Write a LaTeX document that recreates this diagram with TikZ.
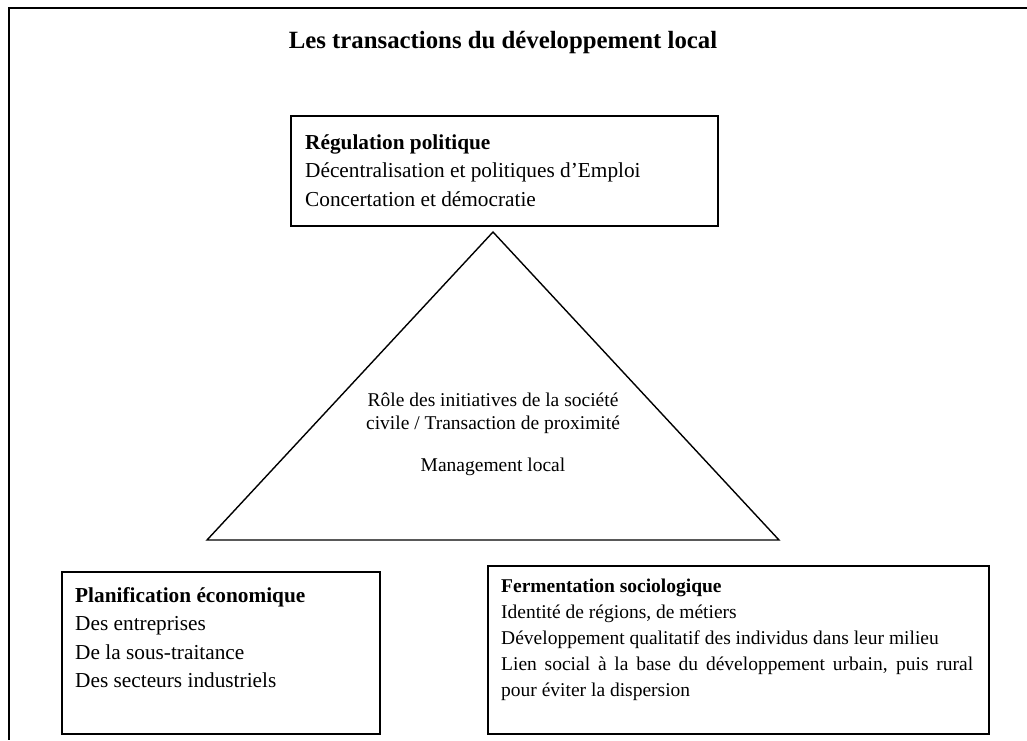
\documentclass[tikz,border=0pt]{standalone}
\usepackage{fontspec}
\setmainfont{Liberation Serif}
\usetikzlibrary{positioning,calc}
\tikzset{
    titletext/.style = {font=\fontsize{24.8}{30}\selectfont\bfseries},
    boxtext/.style = {font=\fontsize{21.3}{28.5}\selectfont, align=left, inner sep=0pt, anchor=north west},
    smalltext/.style = {font=\fontsize{19.5}{26}\selectfont},
    tritext/.style = {font=\fontsize{19.5}{23}\selectfont, align=center, inner sep=0pt},
    boxframe/.style = {draw, line width=1.8pt, inner sep=0pt, anchor=north west}
}

\begin{document}
\begin{tikzpicture}[x=1pt,y=-1pt]
                \useasboundingbox (0,0) rectangle (1027,740);

                % FRAME
                \coordinate (frametr) at (1027,8);
                \coordinate (frametl) at (9,8);
                \coordinate (framebl) at (9,740);
                \draw[line width=2pt] (frametr) -- (frametl) -- (framebl);

                \node[titletext] (title) at (503,43) {Les transactions du développement local};

                % REGULATION
                \node[boxframe, minimum width=427pt, minimum height=110pt] (regbox) at (290,115) {};
                \node[boxtext] (regtext) at ([xshift=15pt,yshift=-19pt]regbox.north west)
                    {\textbf{Régulation politique}\\Décentralisation et politiques d’Emploi\\Concertation et démocratie};

                % TRIANGLE
                \coordinate (apex) at (493,232);
                \coordinate (baseleft) at (207,540);
                \coordinate (baseright) at (779,540);
                \draw[line width=1.4pt] (apex) -- (baseleft) -- (baseright) -- cycle;

                \node[tritext] (roletext) at (493,413) {Rôle des initiatives de la société\\civile / Transaction de proximité};
                \node[tritext] (mgmttext) at (493,467) {Management local};

                % PLANIFICATION
                \node[boxframe, minimum width=318pt, minimum height=162pt] (planbox) at (61,571) {};
                \node[boxtext] (plantext) at ([xshift=14pt,yshift=-16pt]planbox.north west)
                    {\textbf{Planification économique}\\Des entreprises\\De la sous-traitance\\Des secteurs industriels};

                % FERMENTATION
                \node[boxframe, minimum width=501pt, minimum height=168pt] (fermbox) at (487,565) {};
                \node[boxtext, smalltext] (fermtext) at ([xshift=14pt,yshift=-14pt]fermbox.north west)
                    {\textbf{Fermentation sociologique}\\Identité de régions, de métiers\\Développement qualitatif des individus dans leur milieu\\
                     \makebox[472pt][s]{Lien social à la base du développement urbain, puis rural}\\pour éviter la dispersion};

            \end{tikzpicture}
\end{document}
